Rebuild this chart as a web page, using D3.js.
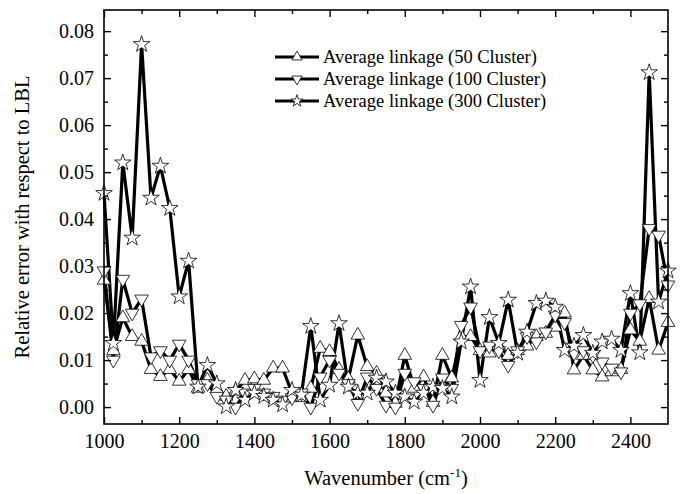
<!DOCTYPE html>
<html><head><meta charset="utf-8">
<script src="https://cdn.jsdelivr.net/npm/d3@7"></script>
<style>body{margin:0;background:#fff}svg{display:block}text{font-family:"Liberation Serif","Times New Roman",serif;fill:#000}</style>
</head><body>
<script>
const wavenumbers = d3.range(1000, 2501, 25);
const series50 = [0.027,0.012,0.019,0.015,0.014,0.008,0.0065,0.008,0.0055,0.008,
0.004,0.0057,0.0038,0.0023,0.0034,0.0057,0.006,0.0057,0.0083,0.0083,
0.003,0.002,0.004,0.0125,0.0118,0.008,0.006,0.0153,0.0086,0.0072,
0.003,0.0008,0.011,0.004,0.0064,0.001,0.011,0.0062,0.015,0.015,
0.012,0.0115,0.013,0.011,0.012,0.013,0.015,0.0157,0.017,0.02,
0.0079,0.011,0.0079,0.0064,0.0075,0.008,0.0164,0.014,0.0231,0.0121,0.018];
const series100 = [0.029,0.010,0.0272,0.020,0.023,0.0107,0.012,0.010,0.0134,0.010,
0.005,0.005,0.0023,0.0015,0.0,0.003,0.004,0.003,0.0023,0.0015,
0.002,0.003,0.0,0.0064,0.01,0.0072,0.005,0.0008,0.0064,0.004,
0.0004,0.0,0.0072,0.0054,0.004,0.0004,0.0062,0.004,0.0174,0.0213,
0.012,0.013,0.012,0.0089,0.012,0.015,0.0139,0.016,0.0196,0.018,
0.0115,0.012,0.011,0.0096,0.0083,0.0075,0.02,0.022,0.038,0.0366,0.026];
const series300 = [0.0455,0.0136,0.052,0.036,0.0772,0.0445,0.0513,0.0423,0.0235,0.0311,
0.0043,0.0089,0.005,0.0001,0.0036,0.0015,0.003,0.0023,0.0015,0.0005,
0.0036,0.0026,0.0172,0.0015,0.0047,0.0178,0.0043,0.003,0.003,0.0062,
0.0054,0.003,0.0022,0.0011,0.003,0.0043,0.004,0.0022,0.0139,0.0256,
0.0057,0.0191,0.0136,0.0228,0.0115,0.016,0.0221,0.0226,0.0213,0.0121,
0.013,0.0153,0.0115,0.0139,0.0145,0.0121,0.0242,0.0116,0.0712,0.0224,0.029];
const seriesNames = ["Average linkage (50 Cluster)","Average linkage (100 Cluster)","Average linkage (300 Cluster)"];
const xTicks = [1000,1200,1400,1600,1800,2000,2200,2400];
const yTicks = [0,0.01,0.02,0.03,0.04,0.05,0.06,0.07,0.08];

const W=683,H=494;
const L=104,R=668,T=10,B=424;
const svg=d3.select("body").append("svg").attr("width",W).attr("height",H);
const x=d3.scaleLinear().domain([1000,2500]).range([L,R]);
const y=d3.scaleLinear().domain([-0.0036,0.0845]).range([B,T]);

const allSeries=[
 {name:seriesNames[0],vals:series50,kind:"up"},
 {name:seriesNames[1],vals:series100,kind:"down"},
 {name:seriesNames[2],vals:series300,kind:"star"}];

const g=svg.append("g");
const line=d3.line().x((d,i)=>x(wavenumbers[i])).y(d=>y(d));
allSeries.forEach(s=>{
  g.append("path").datum(s.vals).attr("d",line).attr("fill","none")
   .attr("stroke","#000").attr("stroke-width",3.2).attr("stroke-linejoin","round");
});
allSeries.forEach(s=>{
  const sz = s.kind==="star"?85:80;
  g.selectAll(null).data(s.vals).enter().append("path")
   .attr("transform",(d,i)=>`translate(${x(wavenumbers[i])},${y(d)})`+(s.kind==="down"?" rotate(180)":""))
   .attr("d",s.kind==="star"?d3.symbol().type(d3.symbolStar).size(sz)():d3.symbol().type(d3.symbolTriangle).size(sz)())
   .attr("fill","#fff").attr("stroke","#000").attr("stroke-width",0.8);
});

// frame
svg.append("rect").attr("x",L).attr("y",T).attr("width",R-L).attr("height",B-T)
 .attr("fill","none").attr("stroke","#000").attr("stroke-width",1.6);

// axes with inward ticks
const xMinor=d3.range(1100,2500,200);
svg.append("g").attr("transform",`translate(0,${B})`)
 .call(d3.axisBottom(x).tickValues(xTicks).tickSize(-7).tickPadding(10).tickFormat(d3.format("d")));
svg.append("g").attr("transform",`translate(0,${B})`).call(d3.axisBottom(x).tickValues(xMinor).tickSize(-4).tickFormat(""));
svg.append("g").attr("transform",`translate(0,${T})`).call(d3.axisTop(x).tickValues(xTicks).tickSize(-7).tickFormat(""));
svg.append("g").attr("transform",`translate(0,${T})`).call(d3.axisTop(x).tickValues(xMinor).tickSize(-4).tickFormat(""));

const yMinor=d3.range(0.005,0.085,0.01);
svg.append("g").attr("transform",`translate(${L},0)`)
 .call(d3.axisLeft(y).tickValues(yTicks).tickSize(-7).tickPadding(10).tickFormat(d3.format(".2f")));
svg.append("g").attr("transform",`translate(${L},0)`).call(d3.axisLeft(y).tickValues(yMinor).tickSize(-4).tickFormat(""));
svg.append("g").attr("transform",`translate(${R},0)`).call(d3.axisRight(y).tickValues(yTicks).tickSize(-7).tickFormat(""));
svg.append("g").attr("transform",`translate(${R},0)`).call(d3.axisRight(y).tickValues(yMinor).tickSize(-4).tickFormat(""));
svg.selectAll(".domain").remove();
svg.selectAll(".tick line").attr("stroke","#000").attr("stroke-width",1.4);
svg.selectAll(".tick text").attr("font-family","Liberation Serif").attr("font-size",20).attr("fill","#000");

// axis titles
svg.append("text").attr("transform","translate(29,217) rotate(-90)").attr("text-anchor","middle")
 .attr("font-size",20.5).text("Relative error with respect to LBL");
const xt=svg.append("text").attr("x",386).attr("y",485).attr("text-anchor","middle").attr("font-size",20.5);
xt.append("tspan").text("Wavenumber (cm");
xt.append("tspan").attr("dy",-8).attr("font-size",13).text("-1");
xt.append("tspan").attr("dy",8).text(")");

// legend
const legY=[57,79,101];
allSeries.forEach((s,i)=>{
  const lg=svg.append("g").attr("transform",`translate(0,${legY[i]})`);
  lg.append("line").attr("x1",275).attr("x2",319).attr("y1",0).attr("y2",0).attr("stroke","#000").attr("stroke-width",3.2);
  lg.append("path").attr("transform",`translate(297,0)`+(s.kind==="down"?" rotate(180)":""))
   .attr("d",s.kind==="star"?d3.symbol().type(d3.symbolStar).size(45)():d3.symbol().type(d3.symbolTriangle).size(45)())
   .attr("fill","#fff").attr("stroke","#000").attr("stroke-width",0.8);
  lg.append("text").attr("x",323).attr("y",6).attr("font-size",18.5).text(s.name);
});
</script>
</body></html>
